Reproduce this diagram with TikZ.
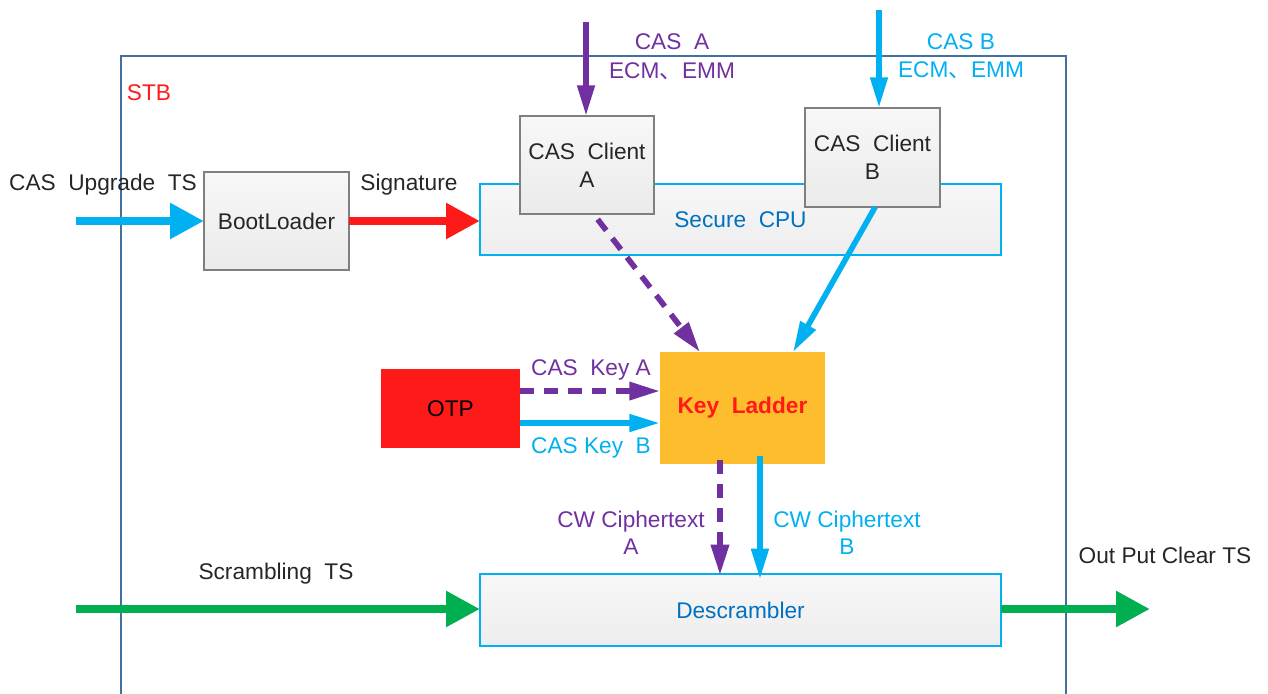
\documentclass[tikz,border=0pt]{standalone}
\usepackage{fontspec}
\setmainfont{Liberation Sans}
\newfontfamily\cjk{Noto Sans CJK SC}
\usetikzlibrary{arrows.meta,calc}
\definecolor{cpurple}{HTML}{7030A0}
\definecolor{ccyan}{HTML}{00B0F0}
\definecolor{cred}{HTML}{FF1A1A}
\definecolor{cgreen}{HTML}{00B050}
\definecolor{cblue}{HTML}{0070C0}
\definecolor{ctext}{HTML}{262626}
\definecolor{cgrayb}{HTML}{7F7F7F}
\definecolor{cframe}{HTML}{41719C}
\definecolor{corange}{HTML}{FDBD2D}
\begin{document}
\begin{tikzpicture}[x=0.75pt,y=-0.75pt,
  font=\fontsize{17}{20}\selectfont,
  every node/.style={inner sep=0pt,outer sep=0pt},
  graybox/.style={draw=cgrayb,line width=1.2pt,top color=white!97!black,bottom color=white!92!black,text=ctext,align=center},
  cyanbox/.style={draw=ccyan,line width=0.9pt,top color=white!97!black,bottom color=white!93!black,text=cblue,align=center},
  lbl/.style={align=center},
  bigarrow/.style={line width=6.5pt,-{Triangle[length=25.5pt,width=25.5pt]}},
  midarrow/.style={line width=4.2pt,-{Triangle[length=23pt,width=12.5pt]}},
  dasharrow/.style={line width=4.2pt,dash pattern=on 10.5pt off 7.5pt,-{Triangle[length=23pt,width=13pt]}}
]
\useasboundingbox (0,0) rectangle (1268,693);
% STB frame
\draw[cframe,line width=0.9pt] (121,700) -- (121,56) -- (1066,56) -- (1066,700);
\node[text=cred] (stb) at (149,93) {STB};

% boxes
\node[cyanbox,minimum width=390.75pt,minimum height=53.25pt] (cpu) at (740.5,219.5) {Secure~~CPU};
\node[graybox,minimum width=108.75pt,minimum height=73.5pt] (boot) at (276.5,221) {BootLoader};
\node[graybox,minimum width=100.5pt,minimum height=73.5pt] (ca) at (587,165) {CAS~~Client\\[1pt]A};
\node[graybox,minimum width=101.25pt,minimum height=74.25pt] (cb) at (872.5,157.5) {CAS~~Client\\[1pt]B};
\node[fill=corange,minimum width=123.75pt,minimum height=84pt,text=cred,font=\fontsize{17}{20}\selectfont\bfseries] (kl) at (742.5,408) {Key~~Ladder};
\node[fill=cred,minimum width=104.25pt,minimum height=59.25pt,text=black] (otp) at (450.5,408.5) {OTP};
\node[cyanbox,minimum width=390.75pt,minimum height=54pt] (des) at (740.5,610) {Descrambler};

% free ends
\coordinate (upin) at (76,221);
\coordinate (casain) at (586,22);
\coordinate (casbin) at (879,10);
\coordinate (grin) at (76,609);
\coordinate (grout) at (1150,609);

% arrows
\draw[bigarrow,ccyan] (upin) -- (boot.west |- upin);
\draw[bigarrow,cred] (boot.east) -- (boot.east -| cpu.west);
\draw[midarrow,cpurple] (casain) -- (casain |- ca.north);
\draw[midarrow,ccyan] (casbin) -- (casbin |- cb.north);
\draw[dasharrow,cpurple] ([xshift=8pt,yshift=-4pt]ca.south) -- ([xshift=-31.9pt]kl.north);
\draw[midarrow,ccyan] ([xshift=2pt]cb.south) -- ([xshift=37.9pt]kl.north);
\draw[dasharrow,cpurple] ([yshift=13.1pt]otp.east) -- ([yshift=13.1pt]otp.east -| kl.west);
\draw[midarrow,ccyan] ([yshift=-10.9pt]otp.east) -- ([yshift=-10.9pt]otp.east -| kl.west);
\draw[dasharrow,cpurple] ([xshift=-16.9pt,yshift=3pt]kl.south) -- ([xshift=-16.9pt,yshift=-1pt]kl.south |- des.north);
\draw[midarrow,ccyan] ([xshift=13.1pt,yshift=6pt]kl.south) -- ([xshift=13.1pt,yshift=-4pt]kl.south |- des.north);
\draw[bigarrow,cgreen] (grin) -- (grin -| des.west);
\draw[bigarrow,cgreen] (grout -| des.east) -- (grout);

% labels
\node[text=ctext] (lup) at (103,185) {CAS~~Upgrade~~TS};
\node[text=ctext] (lsig) at (409,185) {Signature};
\node[text=cpurple,lbl] (lcasa) at (672,57) {CAS~~A\\[2pt]ECM{\cjk 、}EMM};
\node[text=ccyan,lbl] (lcasb) at (961,56) {CAS B\\[1pt]ECM{\cjk 、}EMM};
\node[text=cpurple] (lka) at (591,370) {CAS~~Key A};
\node[text=ccyan] (lkb) at (591,448) {CAS Key~~B};
\node[text=cpurple,lbl] (lcwa) at (631,533) {CW Ciphertext\\A};
\node[text=ccyan,lbl] (lcwb) at (847,533) {CW Ciphertext\\B};
\node[text=ctext] (lscr) at (276,574) {Scrambling~~TS};
\node[text=ctext] (lout) at (1165,555) {Out Put Clear TS};
\end{tikzpicture}
\end{document}
